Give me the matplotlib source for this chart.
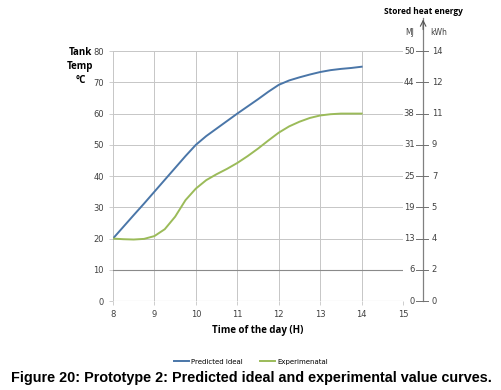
import matplotlib.pyplot as plt
from matplotlib.lines import Line2D

# time of day (hours) and tank temperature readings (read every quarter hour)
hours = [8, 8.25, 8.5, 8.75, 9, 9.25, 9.5, 9.75, 10, 10.25, 10.5, 10.75, 11,
         11.25, 11.5, 11.75, 12, 12.25, 12.5, 12.75, 13, 13.25, 13.5, 13.75, 14]
predicted = [20, 23.75, 27.5, 31.2, 35, 38.8, 42.6, 46.4, 50, 52.8, 55.2, 57.6,
             60, 62.3, 64.6, 67, 69.2, 70.6, 71.6, 72.5, 73.3, 73.9, 74.3,
             74.6, 75]
experimental = [20, 19.8, 19.7, 19.9, 20.8, 23, 27, 32.3, 36, 38.7, 40.6, 42.3,
                44.2, 46.4, 48.8, 51.4, 53.9, 55.9, 57.4, 58.6, 59.4, 59.8, 60,
                60, 60]

temp_ticks = [0, 10, 20, 30, 40, 50, 60, 70, 80]
mj_labels = ['0', '6', '13', '19', '25', '31', '38', '44', '50']
kwh_labels = ['0', '2', '4', '5', '7', '9', '11', '12', '14']
hour_ticks = [8, 9, 10, 11, 12, 13, 14, 15]

blue = '#4a76a8'
green = '#9bbb59'
grid_col = '#c6c6c6'
text_col = '#404040'

fig = plt.figure(figsize=(5.02, 3.9), dpi=100)
ax = fig.add_axes([0.225, 0.228, 0.578, 0.641])

#the curves
ax.plot(hours, predicted, color=blue, lw=1.4)
ax.plot(hours, experimental, color=green, lw=1.4)

ax.set_xlim(8, 15)
ax.set_ylim(0, 80)
ax.set_xticks(hour_ticks)
ax.set_yticks(temp_ticks)
ax.tick_params(labelsize=6, colors=text_col, length=3, width=0.6)
ax.tick_params(axis='both', color=grid_col)
for s in ax.spines.values():
    s.set_visible(False)
ax.grid(True, color=grid_col, lw=0.7)
ax.axhline(10, color='#8a8a8a', lw=0.8)
ax.axhline(0, color=grid_col, lw=0.8)

ax.set_xlabel('Time of the day (H)', fontsize=7, fontweight='bold',
              family='Open Sans', labelpad=4)
fig.text(0.16, 0.83, 'Tank\nTemp\n°C', ha='center', va='center', fontsize=7,
         fontweight='bold', family='Open Sans', linespacing=1.35)

# secondary energy scale on the right
tr = ax.get_yaxis_transform()
axis_x = 1.069
ax.plot([axis_x, axis_x], [0, 90.5], transform=tr, color='#808080', lw=0.9,
        clip_on=False)
ax.annotate('', xy=(axis_x, 91), xytext=(axis_x, 86), xycoords=tr,
            textcoords=tr,
            arrowprops=dict(arrowstyle='->', color='#555555', lw=0.8))
for t, mj, kwh in zip(temp_ticks, mj_labels, kwh_labels):
    ax.add_line(Line2D([axis_x - 0.024, axis_x + 0.017], [t, t], transform=tr,
                       color='#707070', lw=0.7, clip_on=False))
    ax.text(axis_x - 0.03, t, mj, transform=tr, ha='right', va='center',
            fontsize=6, color=text_col)
    ax.text(axis_x + 0.03, t, kwh, transform=tr, ha='left', va='center',
            fontsize=6, color=text_col)
ax.text(axis_x - 0.045, 85.8, 'MJ', transform=tr, ha='center', va='center',
        fontsize=5.5, color=text_col)
ax.text(axis_x + 0.052, 85.8, 'kWh', transform=tr, ha='center', va='center',
        fontsize=5.5, color=text_col)
ax.text(axis_x, 92.6, 'Stored heat energy', transform=tr, ha='center',
        va='center', fontsize=6, fontweight='bold', family='Open Sans')

#legend
ax.legend(['Predicted Ideal', 'Experimenatal'], loc='center',
          bbox_to_anchor=(0.5, 0.072), bbox_transform=fig.transFigure,
          ncol=2, frameon=False, fontsize=5, handlelength=2.2,
          columnspacing=2.5, handletextpad=0.3)

fig.text(0.5, 0.031, 'Figure 20: Prototype 2: Predicted ideal and experimental value curves.',
         ha='center', va='center', fontsize=10.35, fontweight='bold',
         family='Liberation Sans')

fig.savefig('out.png', dpi=100)
